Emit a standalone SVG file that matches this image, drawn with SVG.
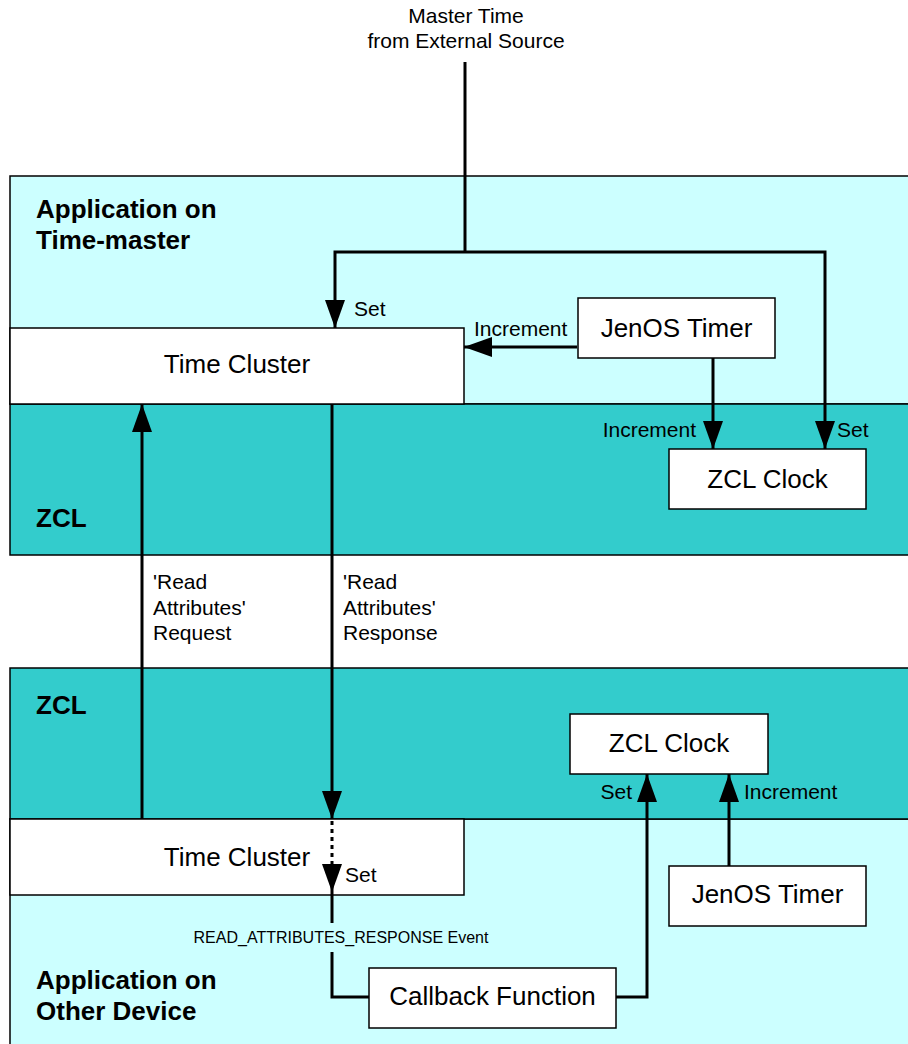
<svg xmlns="http://www.w3.org/2000/svg" width="908" height="1044" viewBox="0 0 908 1044">
<style>
.app{fill:#CCFFFF;stroke:#000;stroke-width:1.5}
.zcl{fill:#33CCCC;stroke:#000;stroke-width:1.5}
.box{fill:#fff;stroke:#000;stroke-width:1.5}
.big{font-family:"Liberation Sans",Arial,sans-serif;font-size:26px;fill:#000;text-anchor:middle}
.lbl{font-family:"Liberation Sans",Arial,sans-serif;font-size:21px;fill:#000}
.bold{font-family:"Liberation Sans",Arial,sans-serif;font-size:26px;font-weight:bold;fill:#000}
.ev{font-family:"Liberation Sans",Arial,sans-serif;font-size:16px;fill:#000;text-anchor:middle}
.ln{fill:none;stroke:#000;stroke-width:3}
.arr{marker-end:url(#ah)}
.dot{stroke-dasharray:4 4}
</style>
<defs>
<marker id="ah" viewBox="0 0 28 20" refX="28" refY="10" markerWidth="28" markerHeight="20" markerUnits="userSpaceOnUse" orient="auto">
<path d="M0,0 L28,10 L0,20 z" fill="#000"/>
</marker>
</defs>
<rect width="908" height="1044" fill="#fff"/>
<g id="panel-app-master">
<rect class="app" x="10" y="176" width="910" height="228"/>
<text class="bold" x="36" y="218">Application on</text>
<text class="bold" x="36" y="249">Time-master</text>
</g>
<g id="panel-zcl-master">
<rect class="zcl" x="10" y="404" width="910" height="151"/>
<text class="bold" x="36" y="527">ZCL</text>
</g>
<g id="panel-app-other">
<rect class="app" x="10" y="819" width="910" height="240"/>
<text class="bold" x="36" y="989">Application on</text>
<text class="bold" x="36" y="1020">Other Device</text>
</g>
<g id="panel-zcl-other">
<rect class="zcl" x="10" y="668" width="910" height="151"/>
<text class="bold" x="36" y="714">ZCL</text>
</g>
<g id="time-cluster-master">
<rect class="box" x="10" y="328" width="454" height="76"/>
<text class="big" x="237" y="373">Time Cluster</text>
</g>
<g id="jenos-timer-master">
<rect class="box" x="578" y="298" width="197" height="60"/>
<text class="big" x="676.5" y="337">JenOS Timer</text>
</g>
<g id="zcl-clock-master">
<rect class="box" x="669" y="449" width="197" height="60"/>
<text class="big" x="767.5" y="488">ZCL Clock</text>
</g>
<g id="time-cluster-other">
<rect class="box" x="10" y="819" width="454" height="76"/>
<text class="big" x="237" y="866">Time Cluster</text>
</g>
<g id="zcl-clock-other">
<rect class="box" x="570" y="714" width="198" height="60"/>
<text class="big" x="669" y="752">ZCL Clock</text>
</g>
<g id="jenos-timer-other">
<rect class="box" x="669" y="866" width="197" height="60"/>
<text class="big" x="767.5" y="903">JenOS Timer</text>
</g>
<g id="callback-function">
<rect class="box" x="369" y="968" width="247" height="60"/>
<text class="big" x="492.5" y="1005">Callback Function</text>
</g>
<g id="external-source">
<text class="lbl" x="466" y="23" text-anchor="middle">Master Time</text>
<text class="lbl" x="466" y="48" text-anchor="middle">from External Source</text>
</g>
<g id="connectors">
<polyline class="ln" points="465,62 465,252"/>
<polyline class="ln arr" points="465,252 335,252 335,328"/>
<polyline class="ln arr" points="465,252 825,252 825,449"/>
<polyline class="ln arr" points="577,347 464,347"/>
<polyline class="ln arr" points="713,358 713,449"/>
<polyline class="ln arr" points="142,819 142,404"/>
<polyline class="ln arr" points="332,404 332,819"/>
<polyline class="ln dot" points="332,821 332,866"/>
<polyline class="ln arr" points="332,864 332,892"/>
<polyline class="ln" points="332,892 332,923"/>
<polyline class="ln" points="332,952 332,997 369,997"/>
<polyline class="ln arr" points="616,997 647,997 647,774"/>
<polyline class="ln arr" points="729,866 729,774"/>
<text class="lbl" x="354" y="316">Set</text>
<text class="lbl" x="474" y="336">Increment</text>
<text class="lbl" x="696" y="437" text-anchor="end">Increment</text>
<text class="lbl" x="837" y="437">Set</text>
<text class="lbl" x="153" y="589">'Read</text>
<text class="lbl" x="153" y="615">Attributes'</text>
<text class="lbl" x="153" y="640">Request</text>
<text class="lbl" x="343" y="589">'Read</text>
<text class="lbl" x="343" y="615">Attributes'</text>
<text class="lbl" x="343" y="640">Response</text>
<text class="lbl" x="632" y="799" text-anchor="end">Set</text>
<text class="lbl" x="744" y="799">Increment</text>
<text class="lbl" x="345" y="882">Set</text>
<text class="ev" x="341" y="943">READ_ATTRIBUTES_RESPONSE Event</text>
</g>
</svg>
